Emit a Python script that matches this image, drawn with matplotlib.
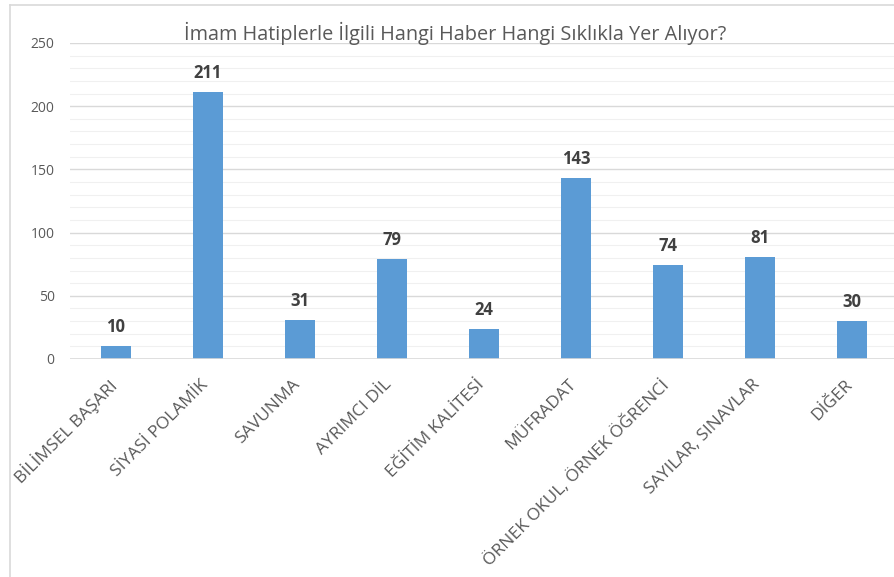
import matplotlib.pyplot as plt
import numpy as np
from matplotlib.lines import Line2D
from matplotlib.transforms import ScaledTranslation

plt.rcParams['font.family'] = ['Open Sans', 'DejaVu Sans']

categories = ['BİLİMSEL BAŞARI', 'SİYASİ POLAMİK', 'SAVUNMA', 'AYRIMCI DİL',
              'EĞİTİM KALİTESİ', 'MÜFRADAT', 'ÖRNEK OKUL, ÖRNEK ÖĞRENCİ',
              'SAYILAR, SINAVLAR', 'DİĞER']
counts = [10, 211, 31, 79, 24, 143, 74, 81, 30]
y_ticks = [0, 50, 100, 150, 200, 250]
title = 'İmam Hatiplerle İlgili Hangi Haber Hangi Sıklıkla Yer Alıyor?'

W, H = 895, 577
fig = plt.figure(figsize=(W / 100, H / 100), dpi=100)

# chart frame (left and top edges visible)
fig.add_artist(Line2D([10 / W, 10 / W], [0, 1 - 5 / H], color='#d9d9d9', lw=1.2))
fig.add_artist(Line2D([10 / W, 1], [1 - 5 / H, 1 - 5 / H], color='#d9d9d9', lw=1.2))

left, right = 70 / W, 898 / W
bottom, top = 1 - 359 / H, 1 - 43 / H
ax = fig.add_axes([left, bottom, right - left, top - bottom])

x = np.arange(len(categories))
ax.bar(x, counts, width=0.33, color='#5b9bd5', zorder=3)

ax.set_xlim(-0.5, len(categories) - 0.5)
ax.set_ylim(0, 250)

# gridlines: light every 10, stronger every 50
for v in range(10, 251, 10):
    if v % 50 == 0:
        ax.axhline(v, color='#d9d9d9', lw=1.0, zorder=1)
    else:
        ax.axhline(v, color='#f0f0f0', lw=0.8, zorder=1)
ax.axhline(0, color='#d9d9d9', lw=1.2, zorder=4)

for s in ax.spines.values():
    s.set_visible(False)

ax.set_yticks(y_ticks)
ax.set_yticklabels([str(v) for v in y_ticks], fontsize=10, color='#595959')
ax.tick_params(axis='y', length=0, pad=11)
ax.set_xticks(x)
ax.set_xticklabels(categories, rotation=45, ha='right', va='top',
                   rotation_mode='anchor', fontsize=12.5, color='#595959')
ax.tick_params(axis='x', length=0, pad=9)
shift = ScaledTranslation(-8 / 100, -5 / 100, fig.dpi_scale_trans)
for lbl in ax.get_xticklabels():
    lbl.set_transform(lbl.get_transform() + shift)

for xi, v in zip(x, counts):
    ax.text(xi, v + 8, str(v), ha='center', va='bottom', fontsize=12,
            fontweight='bold', color='#404040')

fig.text(455 / W, 1 - 33 / H, title, ha='center', va='center',
         fontsize=14.3, color='#595959')

fig.savefig('out.png', dpi=100)
